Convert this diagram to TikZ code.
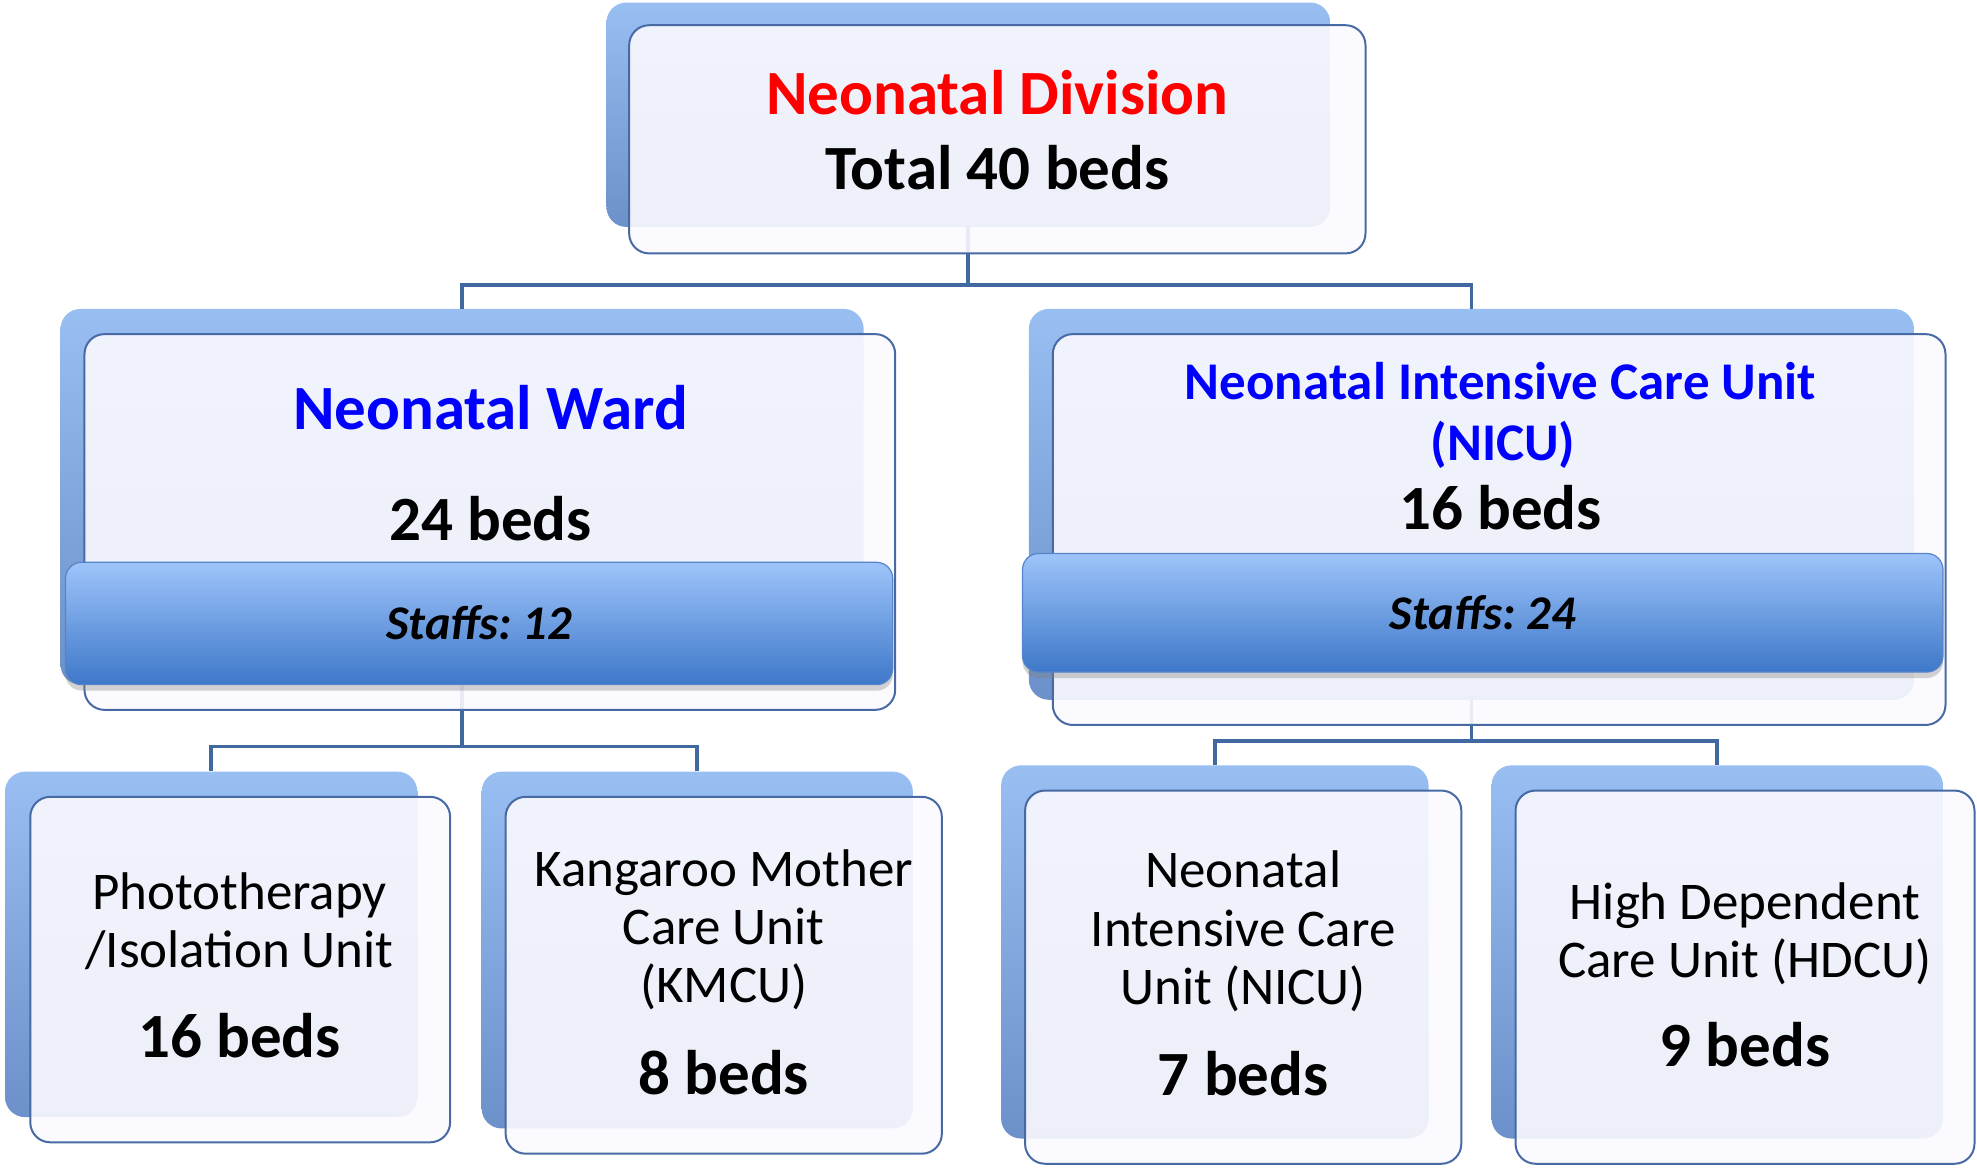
\documentclass[tikz,border=0pt]{standalone}
\usepackage{fontspec}
\setmainfont{Carlito}
\usetikzlibrary{fit,shadows}
\frenchspacing
\definecolor{connC}{RGB}{64,105,160}
\definecolor{edgeC}{RGB}{72,106,164}
\definecolor{frontC}{RGB}{251,250,254}
\definecolor{shTop}{RGB}{152,190,242}
\definecolor{shBot}{RGB}{108,144,202}
\definecolor{barTop}{RGB}{158,196,250}
\definecolor{barBot}{RGB}{62,120,201}
\definecolor{barEdge}{RGB}{85,133,200}
\definecolor{titleRed}{RGB}{255,0,0}
\definecolor{titleBlue}{RGB}{0,0,255}
\begin{document}
\begin{tikzpicture}[x=0.63045pt,y=-0.63045pt,
  shadowbox/.style={rounded corners=10pt, top color=shTop, bottom color=shBot, draw=none, inner sep=0pt},
  frontbox/.style={rounded corners=10pt, draw=edgeC, line width=1pt, fill=frontC, fill opacity=0.9, inner sep=0pt},
  staffbar/.style={rounded corners=8pt, top color=barTop, bottom color=barBot, draw=barEdge, line width=0.6pt, inner sep=0pt,
     drop shadow={shadow xshift=0pt, shadow yshift=-3pt, opacity=0.35}},
  link/.style={draw=connC, line width=1.9pt},
  bigtxt/.style={font=\fontsize{31.5}{36}\selectfont\bfseries, inner sep=0pt, anchor=base},
  midtxt/.style={font=\fontsize{26.5}{30}\selectfont, inner sep=0pt, anchor=base},
  midbold/.style={font=\fontsize{26.5}{30}\selectfont\bfseries, inner sep=0pt, anchor=base},
  stafftxt/.style={font=\fontsize{24.2}{28}\selectfont\bfseries\itshape, inner sep=0pt, anchor=base}]
\useasboundingbox (0,0) rectangle (1568,926);

% shadow (back) boxes
\node[shadowbox, fit={(481,2) (1055,180)}] (topS) {};
\node[shadowbox, fit={(48,245) (685,543)}] (wardS) {};
\node[shadowbox, fit={(816,245) (1518,555)}] (nicuS) {};
\node[shadowbox, fit={(4,612) (331,886)}] (photoS) {};
\node[shadowbox, fit={(382,612) (724,895)}] (kmcuS) {};
\node[shadowbox, fit={(794,607) (1133,903)}] (nicusS) {};
\node[shadowbox, fit={(1183,607) (1541,903)}] (hdcuS) {};

% connectors
\coordinate (j1) at (topS.south |- 0,226);
\coordinate (j2) at (wardS.south |- 0,592);
\coordinate (j3) at (nicuS.south |- 0,588);
\draw[link] (topS.south) -- (j1);
\draw[link] (wardS.north) |- (j1) -| (nicuS.north);
\draw[link] (wardS.south) -- (j2);
\draw[link] (photoS.north) |- (j2) -| (kmcuS.north);
\draw[link] (nicuS.south) -- (j3);
\draw[link] (nicusS.north) |- (j3) -| (hdcuS.north);

% front boxes
\node[frontbox, fit={(499,20) (1083,201)}] (top) {};
\node[frontbox, fit={(67,265) (710,563)}] (ward) {};
\node[frontbox, fit={(835,265) (1543,575)}] (nicu) {};
\node[frontbox, fit={(24,632) (357,906)}] (photo) {};
\node[frontbox, fit={(401,632) (747,915)}] (kmcu) {};
\node[frontbox, fit={(813,627) (1159,923)}] (nicus) {};
\node[frontbox, fit={(1202,627) (1566,923)}] (hdcu) {};

% staff bars
\node[staffbar, fit={(52,446) (708,543)}] (wardBar) {};
\node[staffbar, fit={(811,439) (1541,533)}] (nicuBar) {};

% texts
\node[bigtxt, text=titleRed] (tDiv) at (791,91) {Neonatal Division};
\node[bigtxt] (tTotal) at (791,150) {Total 40 beds};

\node[bigtxt, text=titleBlue] (tWard) at (389,341) {Neonatal Ward};
\node[bigtxt] (tWardBeds) at (389,429) {24 beds};
\node[stafftxt] (tWardStaff) at (380,507) {Staffs: 12};

\node[midbold, text=titleBlue] (tNicu1) at (1190,317) {Neonatal Intensive Care Unit};
\node[midbold, text=titleBlue] (tNicu2) at (1192,365) {(NICU)};
\node[bigtxt] (tNicuBeds) at (1190,420) {16 beds};
\node[stafftxt] (tNicuStaff) at (1176,499) {Staffs: 24};

\node[midtxt] (tPh1) at (190,721) {Phototherapy};
\node[midtxt] (tPh2) at (190,767) {/Isolation Unit};
\node[bigtxt] (tPhB) at (190,839) {16 beds};

\node[midtxt] (tK1) at (574,703) {Kangaroo Mother};
\node[midtxt] (tK2) at (574,749) {Care Unit};
\node[midtxt] (tK3) at (574,795) {(KMCU)};
\node[bigtxt] (tKB) at (574,868) {8 beds};

\node[midtxt] (tN1) at (986,704) {Neonatal};
\node[midtxt] (tN2) at (986,751) {Intensive Care};
\node[midtxt] (tN3) at (986,797) {Unit (NICU)};
\node[bigtxt] (tNB) at (986,869) {7 beds};

\node[midtxt] (tH1) at (1384,729) {High Dependent};
\node[midtxt] (tH2) at (1384,775) {Care Unit (HDCU)};
\node[bigtxt] (tHB) at (1384,846) {9 beds};
\end{tikzpicture}
\end{document}
